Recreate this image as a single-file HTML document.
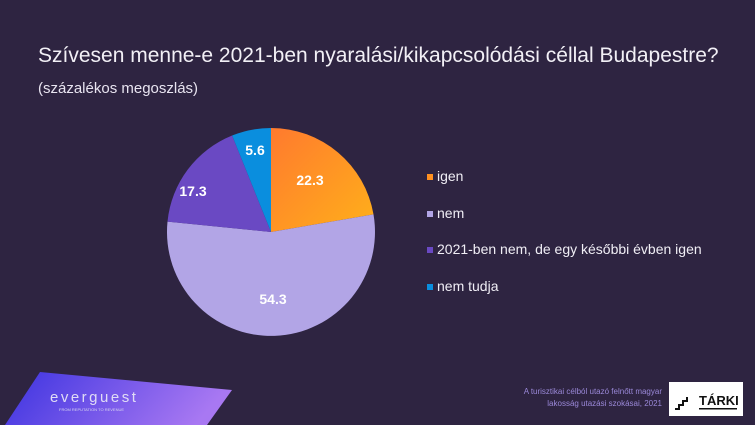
<!DOCTYPE html>
<html><head><meta charset="utf-8"><style>
html,body{margin:0;padding:0}
body{width:755px;height:425px;background:#2e2441;position:relative;overflow:hidden;font-family:"Liberation Sans",sans-serif;color:#fff}
.t{position:absolute;left:38px;top:44px;font-size:21px;color:#f2f0f6}
.s{position:absolute;left:38px;top:80px;font-size:15px;color:#e8e4f0}
.lg{position:absolute;left:427px;font-size:14px;color:#f0eef5}
.lg i{display:inline-block;width:6px;height:6px;margin-right:4px;vertical-align:1px}
</style></head><body>
<div class="t">Szívesen menne-e 2021-ben nyaralási/kikapcsolódási céllal Budapestre?</div>
<div class="s">(százalékos megoszlás)</div>
<svg width="755" height="425" style="position:absolute;left:0;top:0">
<defs>
<linearGradient id="og" x1="0" y1="0" x2="1" y2="1"><stop offset="0" stop-color="#ff7a2e"/><stop offset="1" stop-color="#ffb01a"/></linearGradient>
<linearGradient id="eg" x1="0" y1="0" x2="1" y2="0.2"><stop offset="0" stop-color="#3c33e0"/><stop offset="1" stop-color="#a878f2"/></linearGradient>
</defs>
<path d="M271,232 L271,128 A104,104 0 0 1 373.5,214.4 Z" fill="url(#og)"/>
<path d="M271,232 L373.5,214.4 A104,104 0 1 1 167.5,221.6 Z" fill="#b2a5e6"/>
<path d="M271,232 L167.5,221.6 A104,104 0 0 1 232.1,135.5 Z" fill="#6a49c3"/>
<path d="M271,232 L232.1,135.5 A104,104 0 0 1 271,128 Z" fill="#0a8ede"/>
<g font-weight="bold" font-size="14" fill="#fff" text-anchor="middle" font-family="Liberation Sans, sans-serif">
<text x="310" y="185">22.3</text>
<text x="273" y="304">54.3</text>
<text x="193" y="196">17.3</text>
<text x="255" y="155">5.6</text>
</g>
<polygon points="40,372 232,390 207,425 5,425" fill="url(#eg)"/>
<text x="50" y="402" font-size="15" fill="#e0dcf5" letter-spacing="2.5" font-family="Liberation Sans, sans-serif">everguest</text>
<text x="59" y="411" font-size="4" fill="#d8d4f0" font-family="Liberation Sans, sans-serif">FROM REPUTATION TO REVENUE</text>
<rect x="669" y="382" width="74" height="34" fill="#fff"/>
<text x="699" y="405" font-size="13" font-weight="bold" fill="#111" font-family="Liberation Sans, sans-serif">TÁRKI</text>
<path d="M675,409 h4 v-4 h4 v-4 h4 v-4" stroke="#111" stroke-width="2" fill="none"/>
<rect x="699" y="408" width="38" height="1.5" fill="#111"/>
<text x="662" y="394" font-size="8" fill="#9a88d8" text-anchor="end" font-family="Liberation Sans, sans-serif">A turisztikai célból utazó felnőtt magyar</text>
<text x="662" y="406" font-size="8" fill="#9a88d8" text-anchor="end" font-family="Liberation Sans, sans-serif">lakosság utazási szokásai, 2021</text>
</svg>
<div class="lg" style="top:168px"><i style="background:#ff9020"></i>igen</div>
<div class="lg" style="top:205px"><i style="background:#b2a5e6"></i>nem</div>
<div class="lg" style="top:241px"><i style="background:#6a49c3"></i>2021-ben nem, de egy későbbi évben igen</div>
<div class="lg" style="top:278px"><i style="background:#0a8ede"></i>nem tudja</div>
</body></html>
